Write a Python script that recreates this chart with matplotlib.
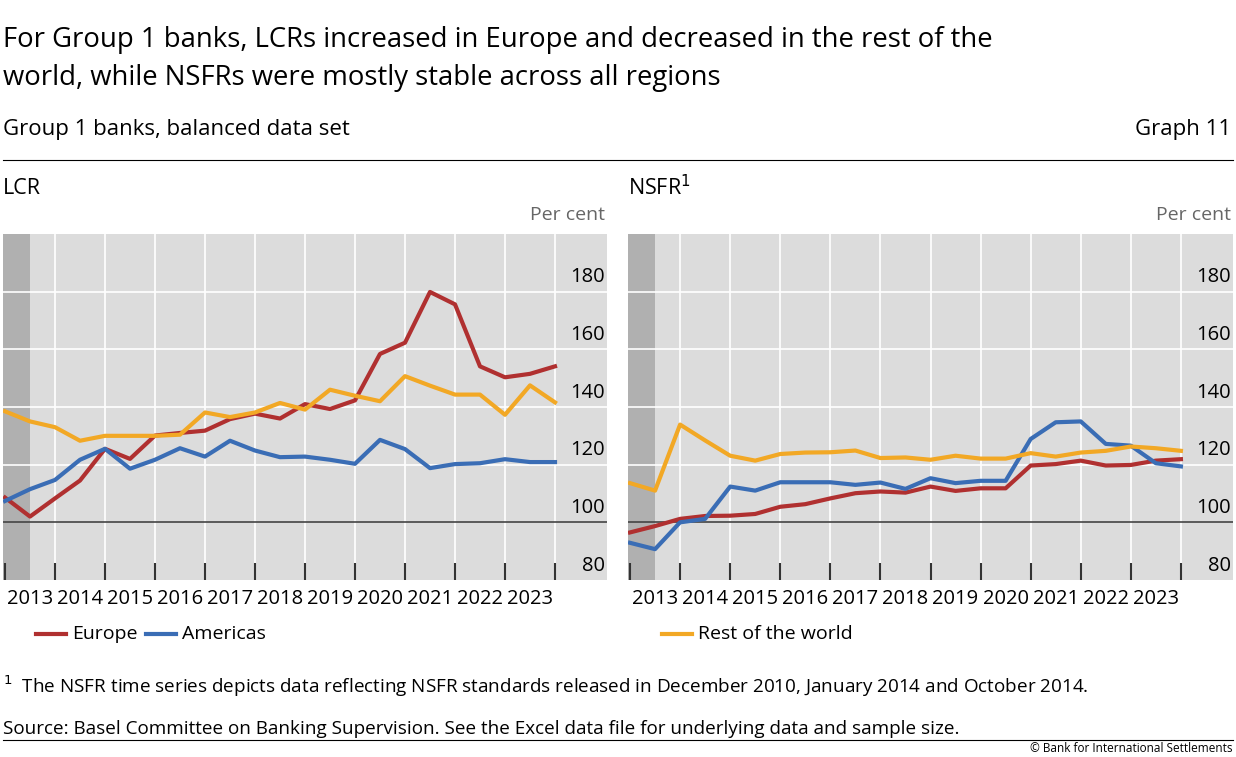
import matplotlib
matplotlib.use("Agg")
import matplotlib.pyplot as plt
import numpy as np

plt.rcParams['font.family'] = ['Open Sans', 'DejaVu Sans']

periods = np.arange(2013, 2024.01, 0.5)  # half-yearly observations
years = list(range(2013, 2024))

lcr_europe = [108.6, 102, 108.3, 114.5, 125.5, 122, 130.1, 131, 131.8, 135.8, 137.7, 136, 141, 139.3,
              142.3, 158.4, 162.3, 179.9, 175.6, 154.1, 150.3, 151.5, 154.1]
lcr_americas = [107.4, 111.5, 114.7, 121.7, 125.5, 118.6, 121.7, 125.7, 122.8, 128.3, 124.9, 122.6, 122.8,
                121.7, 120.3, 128.6, 125.4, 118.8, 120.2, 120.5, 121.9, 120.9, 120.9]
lcr_rest = [138.5, 135, 133, 128.3, 130, 130, 130, 130.4, 138.1, 136.5, 138.1, 141.4, 139.1, 146, 143.9,
            142, 150.7, 147.4, 144.3, 144.3, 137.3, 147.5, 141.6]

nsfr_europe = [96.5, 98.7, 101.2, 102.2, 102.3, 102.9, 105.4, 106.3, 108.3, 110.1, 110.7, 110.3, 112.4,
               110.9, 111.8, 111.8, 119.7, 120.2, 121.4, 119.7, 119.9, 121.4, 121.9]
nsfr_americas = [92.9, 90.7, 100, 101.2, 112.4, 111, 113.9, 113.9, 113.9, 113, 113.8, 111.6, 115.3, 113.6,
                 114.4, 114.4, 128.9, 134.7, 135, 127.2, 126.6, 120.5, 119.4]
nsfr_rest = [113.6, 111, 133.9, 128.4, 123.1, 121.4, 123.7, 124.2, 124.3, 124.9, 122.3, 122.5, 121.7, 123.1,
             122.1, 122.1, 124, 122.8, 124.2, 124.8, 126.3, 125.7, 124.8]

yticks = [80, 100, 120, 140, 160, 180]
C_EU, C_AM, C_RW = '#b03030', '#3a6db5', '#f2a825'

W, H = 1236, 757
fig = plt.figure(figsize=(W / 100, H / 100), dpi=100)

def px(x0, y0, x1, y1):
    return [x0 / W, 1 - y1 / H, (x1 - x0) / W, (y1 - y0) / H]

def panel(rect, eu, am, rw):
    ax = fig.add_axes(px(*rect))
    ax.set_facecolor('#dcdcdc')
    ax.set_xlim(2013 - 0.04, 2024 + 1.04)
    ax.set_ylim(80, 200)
    ax.axvspan(2013 - 0.04, 2013.5, color='#b0b0b0', zorder=0.5, lw=0)
    for y in yticks[2:]:
        ax.axhline(y, color='white', lw=1.2, zorder=1)
    for x in range(2014, 2025):
        ax.axvline(x, color='white', lw=1.2, zorder=1)
    ax.axhline(100, color='#444444', lw=1.2, zorder=2)
    ax.vlines(range(2013, 2025), 80, 86, color='#333333', lw=1.5, zorder=2)
    ax.plot(periods, eu, color=C_EU, lw=3, zorder=3)
    ax.plot(periods, am, color=C_AM, lw=3, zorder=3)
    ax.plot(periods, rw, color=C_RW, lw=3, zorder=4)
    for y in yticks:
        ax.text(2025.0, y + 1.5, str(y), ha='right', va='bottom', fontsize=14.5)
    ax.set_xticks([])
    ax.set_yticks([])
    for s in ax.spines.values():
        s.set_visible(False)
    for yr in years:
        ax.text(yr + 0.5, 77, str(yr), ha='center', va='top', fontsize=14.5, clip_on=False)
    ax.text(2025.0, 203.5, 'Per cent', ha='right', va='bottom', fontsize=14, color='#666666')
    return ax

ax1 = panel((3, 234, 607, 580), lcr_europe, lcr_americas, lcr_rest)
ax2 = panel((628, 234, 1233, 580), nsfr_europe, nsfr_americas, nsfr_rest)

fig.text(3 / W, 1 - 40 / H, 'For Group 1 banks, LCRs increased in Europe and decreased in the rest of the',
         fontsize=19.8, va='center')
fig.text(3 / W, 1 - 78 / H, 'world, while NSFRs were mostly stable across all regions', fontsize=19.8, va='center')
fig.text(3 / W, 1 - 130 / H, 'Group 1 banks, balanced data set', fontsize=16, va='center')
fig.text(1231 / W, 1 - 130 / H, 'Graph 11', fontsize=16, va='center', ha='right')
fig.add_artist(plt.Line2D([3 / W, 1233 / W], [1 - 160 / H] * 2, color='black', lw=0.8))
fig.text(3 / W, 1 - 188 / H, 'LCR', fontsize=15.5, va='center')
fig.text(628 / W, 1 - 188 / H, r'NSFR$^{1}$', fontsize=15.5, va='center')

def legend_item(x, y, color, label):
    fig.add_artist(plt.Line2D([x / W, (x + 30) / W], [1 - y / H] * 2, color=color, lw=3))
    fig.text((x + 36) / W, 1 - y / H, label, fontsize=14, va='center')

legend_item(36, 634, C_EU, 'Europe')
legend_item(146, 634, C_AM, 'Americas')
legend_item(662, 634, C_RW, 'Rest of the world')

fig.text(3 / W, 1 - 686 / H, r'$^{1}$  The NSFR time series depicts data reflecting NSFR standards released in December 2010, January 2014 and October 2014.',
         fontsize=13.6, va='center')
fig.text(3 / W, 1 - 729 / H, 'Source: Basel Committee on Banking Supervision. See the Excel data file for underlying data and sample size.',
         fontsize=13.6, va='center')
fig.add_artist(plt.Line2D([3 / W, 1233 / W], [1 - 740 / H] * 2, color='black', lw=0.8))
fig.text(1233 / W, 1 - 748 / H, '© Bank for International Settlements', fontsize=8.5, va='center', ha='right')

fig.savefig('out.png', dpi=100)
